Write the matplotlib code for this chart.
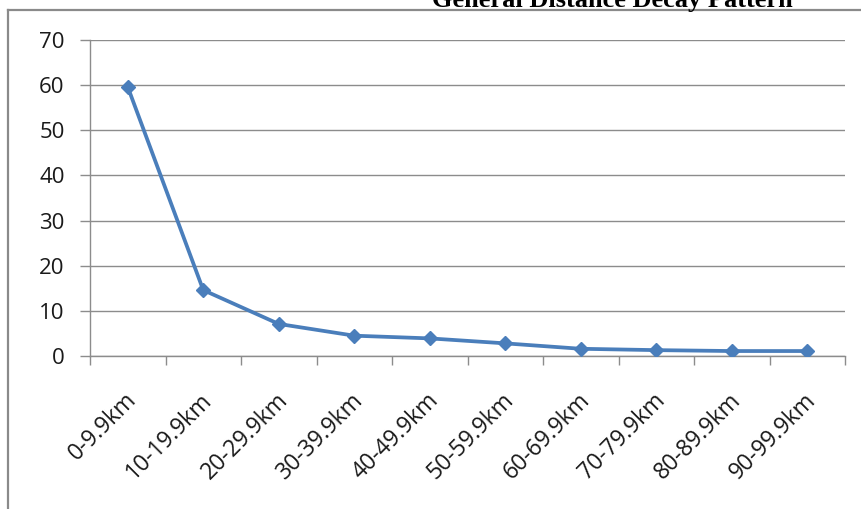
import matplotlib
matplotlib.use("Agg")
import matplotlib.pyplot as plt
import matplotlib.transforms as mtransforms
from matplotlib.lines import Line2D

# data
categories = ['0-9.9km', '10-19.9km', '20-29.9km', '30-39.9km', '40-49.9km',
              '50-59.9km', '60-69.9km', '70-79.9km', '80-89.9km', '90-99.9km']
values = [59.6, 14.6, 7.1, 4.5, 3.9, 2.8, 1.6, 1.3, 1.1, 1.1]
y_ticks = [0, 10, 20, 30, 40, 50, 60, 70]
title = 'General Distance Decay Pattern'

W, H = 861, 509
fig = plt.figure(figsize=(W / 100, H / 100), dpi=100)
ax = fig.add_axes([90 / W, 1 - 356 / H, (845 - 90) / W, (356 - 40) / H])

x = list(range(len(categories)))
ax.plot(x, values, color='#4A7EBB', linewidth=2.7, marker='D', markersize=7,
        markerfacecolor='#4A7EBB', markeredgecolor='#4A7EBB', zorder=3)

ax.set_xlim(-0.5, len(categories) - 0.5)
ax.set_ylim(0, 70)
ax.set_yticks(y_ticks)
# category boundaries get the tick marks, centres get the labels
ax.set_xticks([i - 0.5 for i in range(len(categories) + 1)], minor=False)
ax.set_xticklabels([])
ax.set_xticks(x, minor=True)
ax.set_xticklabels(categories, minor=True)

grid_col = '#8c8c8c'
ax.yaxis.grid(True, color=grid_col, linewidth=1.0)
ax.set_axisbelow(True)
for s in ['top', 'right']:
    ax.spines[s].set_visible(False)
for s in ['left', 'bottom']:
    ax.spines[s].set_color(grid_col)
    ax.spines[s].set_linewidth(1.0)

ax.tick_params(axis='y', direction='out', length=7.2, width=1, color=grid_col,
               pad=11, labelsize=16, labelcolor='#1a1a1a')
ax.tick_params(axis='x', which='major', direction='out', length=6.5, width=1, color=grid_col)
ax.tick_params(axis='x', which='minor', length=0, pad=23, labelsize=16.5, labelcolor='#1a1a1a')
for t in ax.get_yticklabels() + ax.get_xticklabels(minor=True):
    t.set_fontfamily('Open Sans')
offset = mtransforms.ScaledTranslation(-3 / 100, 0, fig.dpi_scale_trans)
for t in ax.get_xticklabels(minor=True):
    t.set_rotation(45)
    t.set_ha('right')
    t.set_va('top')
    t.set_rotation_mode('anchor')
    t.set_transform(t.get_transform() + offset)

# chart frame (top and left edges visible in the crop)
fig.add_artist(Line2D([8 / W, 8 / W], [0, 1 - 10 / H], color='#8a8a8a', linewidth=1.6,
                      transform=fig.transFigure))
fig.add_artist(Line2D([8 / W, 1], [1 - 10 / H, 1 - 10 / H], color='#8a8a8a', linewidth=1.6,
                      transform=fig.transFigure))

fig.text(612 / W, 1 - 7 / H, title, ha='center', va='baseline', fontsize=19,
         fontweight='bold', family='Liberation Serif')

fig.savefig('out.png', dpi=100)
